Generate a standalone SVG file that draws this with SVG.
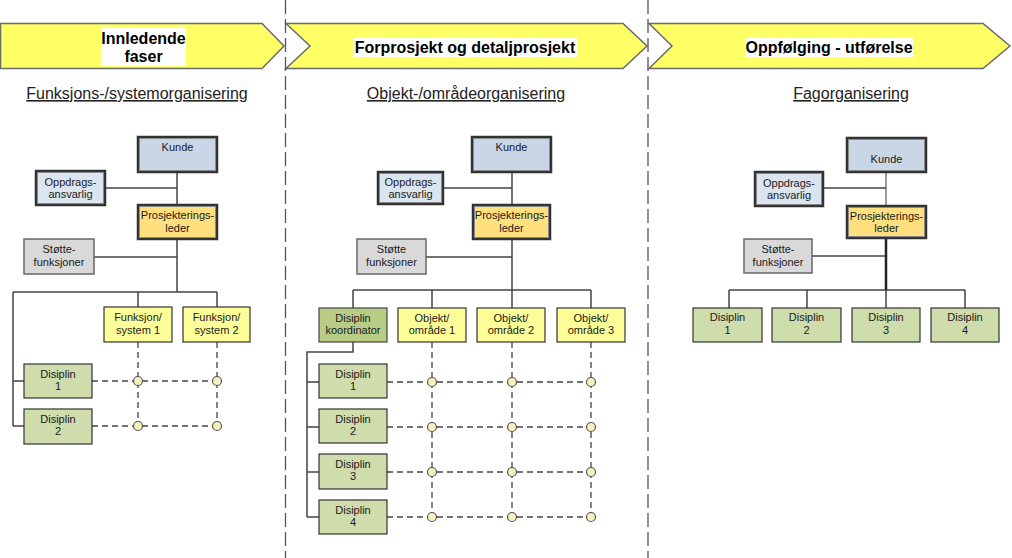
<svg xmlns="http://www.w3.org/2000/svg" width="1012" height="558" viewBox="0 0 1012 558">
<style>
text{font-family:"Liberation Sans",Arial,sans-serif;fill:#1a1a1a}
.t{font-size:11px;text-anchor:middle}
.h{font-size:16px;font-weight:bold;text-anchor:middle;fill:#000}
.s{font-size:16px;text-anchor:middle;text-decoration:underline;fill:#222}
.arrow{fill:#ffff66;stroke:#6a6a6a;stroke-width:1.5}
.sep{stroke:#555;stroke-width:1.3;stroke-dasharray:14,5;fill:none}
.kunde{fill:#c9d6e6}
.opp{fill:#dbe5f0}
.prosj{fill:#ffdf7e}
.dbl{stroke:#333;stroke-width:2.5}
.dbli{fill:none;stroke:#8a8a8a;stroke-width:1}
.stotte{fill:#d9d9d9;stroke:#666;stroke-width:1.5}
.fs{fill:#ffff99;stroke:#333;stroke-width:1.2}
.dis{fill:#cfdcab;stroke:#333;stroke-width:1.2}
.koord{fill:#b8cc86;stroke:#444;stroke-width:1.2}
.ln{fill:none;stroke:#444;stroke-width:1.5}
.lg{fill:none;stroke:#777;stroke-width:1.5}
.lt{fill:none;stroke:#222;stroke-width:2.5}
.dl{fill:none;stroke:#444;stroke-width:1.3;stroke-dasharray:6,4}
.c{fill:#f4f1bd;stroke:#555;stroke-width:1.2}
</style>
<rect width="1012" height="558" fill="#fff"/>

<g id="phases">
<polygon class="arrow" points="0.5,23.5 262,23.5 284,46 262,68.5 0.5,68.5"/>
<polygon class="arrow" points="286,23.5 623,23.5 647,46 623,68.5 286,68.5 310,46"/>
<polygon class="arrow" points="649,23.5 983,23.5 1010,46 983,68.5 649,68.5 672,46"/>
<rect x="101" y="28" width="85" height="38" fill="#fff"/>
<text class="h" x="143.5" y="44">Innledende</text>
<text class="h" x="143.5" y="62">faser</text>
<rect x="353" y="38" width="224" height="19" fill="#fff"/>
<text class="h" x="465" y="53">Forprosjekt og detaljprosjekt</text>
<rect x="745" y="38" width="168" height="19" fill="#fff"/>
<text class="h" x="829" y="53">Oppfølging - utførelse</text>
</g>

<g id="separators">
<line class="sep" x1="285.5" y1="0" x2="285.5" y2="558"/>
<line class="sep" x1="648" y1="0" x2="648" y2="558"/>
</g>

<g id="titles">
<text class="s" x="137" y="99">Funksjons-/systemorganisering</text>
<text class="s" x="466" y="99">Objekt-/områdeorganisering</text>
<text class="s" x="851" y="99">Fagorganisering</text>
</g>

<g id="connectors">
<path class="ln" d="M177,172V205M105,188H177M177,239V292M94,257H177M13,292H217M138,292V307M217,292V307M13,292V426M13,381H24M13,426H24"/>
<path class="dl" d="M92,381H217M92,426H217M138,342V426M217,342V426"/>
<path class="ln" d="M512,172V205M443,188H512M512,239V290M426,257H512M353,290H591M353,290V308M432,290V308M512,290V308M591,290V308"/>
<path class="ln" d="M353,342V352H307V517M307,382H319M307,427H319M307,472H319M307,517H319"/>
<path class="dl" d="M387,382H591M387,427H591M387,472H591M387,517H591M432,342V517M512,342V517M591,342V517"/>
<path class="lg" d="M886,172V206"/>
<path class="ln" d="M823,188H886M812,256H886M729,290H965M729,290V308M807,290V308M886,290V308M965,290V308"/>
<path class="lt" d="M886,238V290"/>
</g>

<g id="junctions">
<circle class="c" cx="138" cy="381" r="4.5"/><circle class="c" cx="217" cy="381" r="4.5"/>
<circle class="c" cx="138" cy="426" r="4.5"/><circle class="c" cx="217" cy="426" r="4.5"/>
<circle class="c" cx="432" cy="382" r="4.5"/><circle class="c" cx="512" cy="382" r="4.5"/><circle class="c" cx="591" cy="382" r="4.5"/>
<circle class="c" cx="432" cy="427" r="4.5"/><circle class="c" cx="512" cy="427" r="4.5"/><circle class="c" cx="591" cy="427" r="4.5"/>
<circle class="c" cx="432" cy="472" r="4.5"/><circle class="c" cx="512" cy="472" r="4.5"/><circle class="c" cx="591" cy="472" r="4.5"/>
<circle class="c" cx="432" cy="517" r="4.5"/><circle class="c" cx="512" cy="517" r="4.5"/><circle class="c" cx="591" cy="517" r="4.5"/>
</g>

<g id="l-kunde"><rect class="kunde dbl" x="138" y="137" width="79" height="35"/><rect class="dbli" x="139.5" y="138.5" width="76" height="32"/><text class="t" x="177.5" y="151">Kunde</text></g>
<g id="l-oppdrag"><rect class="opp dbl" x="36" y="171" width="69" height="34"/><rect class="dbli" x="37.5" y="172.5" width="66" height="31"/><text class="t" x="70.5" y="186">Oppdrags-</text><text class="t" x="70.5" y="198">ansvarlig</text></g>
<g id="l-prosj"><rect class="prosj dbl" x="138" y="205" width="79" height="34"/><rect class="dbli" x="139.5" y="206.5" width="76" height="31"/><text class="t" x="177.5" y="219">Prosjekterings-</text><text class="t" x="177.5" y="232">leder</text></g>
<g id="l-stotte"><rect class="stotte" x="24" y="239" width="70" height="35"/><text class="t" x="59" y="253">Støtte-</text><text class="t" x="59" y="266">funksjoner</text></g>
<g id="l-fs1"><rect class="fs" x="104" y="307" width="68" height="35"/><text class="t" x="138" y="321">Funksjon/</text><text class="t" x="138" y="334">system 1</text></g>
<g id="l-fs2"><rect class="fs" x="183" y="307" width="67" height="35"/><text class="t" x="216.5" y="321">Funksjon/</text><text class="t" x="216.5" y="334">system 2</text></g>
<g id="l-dis1"><rect class="dis" x="24" y="364" width="68" height="34"/><text class="t" x="58" y="378">Disiplin</text><text class="t" x="58" y="390">1</text></g>
<g id="l-dis2"><rect class="dis" x="24" y="409" width="68" height="35"/><text class="t" x="58" y="423">Disiplin</text><text class="t" x="58" y="435">2</text></g>

<g id="m-kunde"><rect class="kunde dbl" x="472" y="137" width="79" height="35"/><rect class="dbli" x="473.5" y="138.5" width="76" height="32"/><text class="t" x="511.5" y="151">Kunde</text></g>
<g id="m-oppdrag"><rect class="opp dbl" x="378" y="172" width="65" height="32"/><rect class="dbli" x="379.5" y="173.5" width="62" height="29"/><text class="t" x="410.5" y="186">Oppdrags-</text><text class="t" x="410.5" y="198">ansvarlig</text></g>
<g id="m-prosj"><rect class="prosj dbl" x="473" y="205" width="77" height="34"/><rect class="dbli" x="474.5" y="206.5" width="74" height="31"/><text class="t" x="511.5" y="219">Prosjekterings-</text><text class="t" x="511.5" y="232">leder</text></g>
<g id="m-stotte"><rect class="stotte" x="357" y="239" width="69" height="35"/><text class="t" x="391.5" y="253">Støtte</text><text class="t" x="391.5" y="266">funksjoner</text></g>
<g id="m-koord"><rect class="koord" x="319" y="308" width="68" height="34"/><text class="t" x="353" y="322">Disiplin</text><text class="t" x="353" y="334">koordinator</text></g>
<g id="m-obj1"><rect class="fs" x="398" y="308" width="68" height="34"/><text class="t" x="432" y="322">Objekt/</text><text class="t" x="432" y="334">område 1</text></g>
<g id="m-obj2"><rect class="fs" x="477" y="308" width="68" height="34"/><text class="t" x="511" y="322">Objekt/</text><text class="t" x="511" y="334">område 2</text></g>
<g id="m-obj3"><rect class="fs" x="557" y="308" width="68" height="34"/><text class="t" x="591" y="322">Objekt/</text><text class="t" x="591" y="334">område 3</text></g>
<g id="m-dis1"><rect class="dis" x="319" y="364" width="68" height="34"/><text class="t" x="353" y="378">Disiplin</text><text class="t" x="353" y="390">1</text></g>
<g id="m-dis2"><rect class="dis" x="319" y="409" width="68" height="34"/><text class="t" x="353" y="423">Disiplin</text><text class="t" x="353" y="435">2</text></g>
<g id="m-dis3"><rect class="dis" x="319" y="454" width="68" height="35"/><text class="t" x="353" y="468">Disiplin</text><text class="t" x="353" y="480">3</text></g>
<g id="m-dis4"><rect class="dis" x="319" y="500" width="68" height="34"/><text class="t" x="353" y="514">Disiplin</text><text class="t" x="353" y="526">4</text></g>

<g id="r-kunde"><rect class="kunde dbl" x="847" y="138" width="79" height="34"/><rect class="dbli" x="848.5" y="139.5" width="76" height="31"/><text class="t" x="886.5" y="163">Kunde</text></g>
<g id="r-oppdrag"><rect class="opp dbl" x="755" y="172" width="68" height="34"/><rect class="dbli" x="756.5" y="173.5" width="65" height="31"/><text class="t" x="789" y="187">Oppdrags-</text><text class="t" x="789" y="199">ansvarlig</text></g>
<g id="r-prosj"><rect class="prosj dbl" x="847" y="206" width="79" height="32"/><rect class="dbli" x="848.5" y="207.5" width="76" height="29"/><text class="t" x="886.5" y="220">Prosjekterings-</text><text class="t" x="886.5" y="232">leder</text></g>
<g id="r-stotte"><rect class="stotte" x="744" y="239" width="68" height="34"/><text class="t" x="778" y="253">Støtte-</text><text class="t" x="778" y="266">funksjoner</text></g>
<g id="r-dis1"><rect class="dis" x="693" y="308" width="69" height="34"/><text class="t" x="727.5" y="321">Disiplin</text><text class="t" x="727.5" y="334">1</text></g>
<g id="r-dis2"><rect class="dis" x="772" y="308" width="69" height="34"/><text class="t" x="806.5" y="321">Disiplin</text><text class="t" x="806.5" y="334">2</text></g>
<g id="r-dis3"><rect class="dis" x="852" y="308" width="68" height="34"/><text class="t" x="886" y="321">Disiplin</text><text class="t" x="886" y="334">3</text></g>
<g id="r-dis4"><rect class="dis" x="931" y="308" width="68" height="34"/><text class="t" x="965" y="321">Disiplin</text><text class="t" x="965" y="334">4</text></g>
</svg>
